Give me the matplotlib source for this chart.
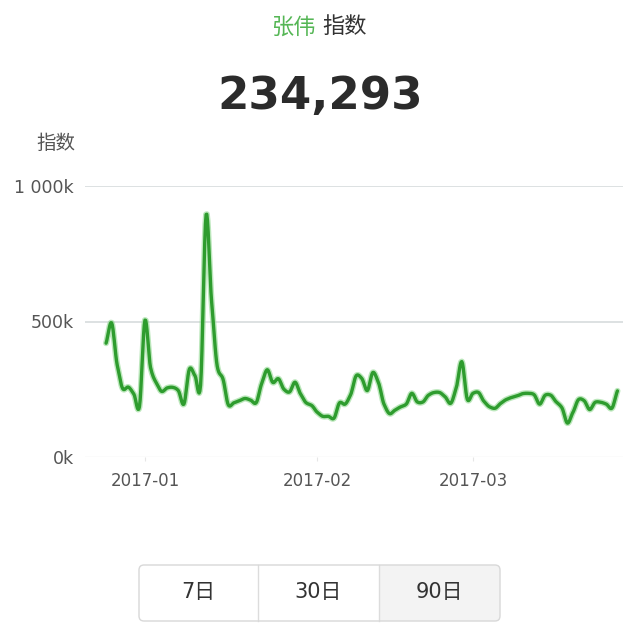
import matplotlib
matplotlib.use('Agg')
import matplotlib.pyplot as plt
import matplotlib.dates as mdates
from matplotlib.patches import FancyBboxPatch, Rectangle
import numpy as np
import pandas as pd

plt.rcParams['font.family'] = ['DejaVu Sans', 'Noto Sans CJK SC']

# daily index values (in thousands), 2016-12-25 .. 2017-03-27
start_date = '2016-12-25'
values = [420, 495, 340, 252, 258, 232, 185,
          505, 330, 275, 242, 255, 257, 245, 195, 325, 300, 265,
          895, 570, 335, 290, 192, 200, 208, 216, 210, 200, 271,
          322, 275, 289, 250, 240, 276, 232, 200, 190,
          165, 150, 150, 143, 200, 195, 230, 300, 290, 245, 312,
          275, 195, 160, 173, 185, 195, 235, 203, 203, 228, 238,
          238, 222, 198, 255, 352, 212,
          235, 238, 205, 185, 180, 198, 212, 220, 226, 234, 235,
          230, 195, 228, 228, 203, 182, 125, 165, 212, 208, 175,
          202, 202, 195, 180, 244]
dates = pd.date_range(start_date, periods=len(values), freq='D')

y_ticks = [0, 500, 1000]
y_tick_labels = ['0k', '500k', '1 000k']
x_ticks = ['2017-01-01', '2017-02-01', '2017-03-01']
x_tick_labels = ['2017-01', '2017-02', '2017-03']
buttons = ['7日', '30日', '90日']
title_name = '张伟'
title_rest = '指数'
big_number = '234,293'


def smooth_path(x, y, steps=8, tension=0.8):
    # cardinal spline through the data points, only for drawing the curve
    x = np.asarray(x, float)
    y = np.asarray(y, float)
    n = len(x)
    my = np.zeros(n)
    my[1:-1] = (y[2:] - y[:-2]) / 2 * tension
    my[0] = (y[1] - y[0]) * tension
    my[-1] = (y[-1] - y[-2]) * tension
    xs, ys = [], []
    t = np.linspace(0, 1, steps, endpoint=False)
    h00 = 2 * t**3 - 3 * t**2 + 1
    h10 = t**3 - 2 * t**2 + t
    h01 = -2 * t**3 + 3 * t**2
    h11 = t**3 - t**2
    for i in range(n - 1):
        xs.append(x[i] + (x[i + 1] - x[i]) * t)
        ys.append(h00 * y[i] + h10 * my[i] + h01 * y[i + 1] + h11 * my[i + 1])
    xs.append([x[-1]])
    ys.append([y[-1]])
    return np.concatenate(xs), np.concatenate(ys)


W, H = 640, 641
fig = plt.figure(figsize=(W / 100, H / 100), dpi=100)
fig.patch.set_facecolor('white')

# main chart
ax = fig.add_axes([85 / W, 1 - 457 / H, (623 - 85) / W, (457 - 186) / H])
sx, sy = smooth_path(mdates.date2num(dates), values)
ax.plot(sx, sy, color='#8fd88f', lw=4.4, alpha=0.6,
        solid_joinstyle='round', solid_capstyle='round', zorder=3)
ax.plot(sx, sy, color='#2e9c2e', lw=2.4,
        solid_joinstyle='round', solid_capstyle='round', zorder=4)

jan1 = mdates.date2num(pd.Timestamp('2017-01-01'))
ax.set_xlim(jan1 - 10.79, jan1 + 86.0)
ax.set_ylim(0, 1000)

ax.set_yticks(y_ticks)
ax.set_yticklabels(y_tick_labels)
ax.set_xticks([mdates.date2num(pd.Timestamp(d)) for d in x_ticks])
ax.set_xticklabels(x_tick_labels)

for v in y_ticks[1:]:
    ax.axhline(v, color='#d3d8da', lw=1.1, zorder=1)
ax.axhline(0, color='#eeeeee', lw=1.0, zorder=1)

for s in ax.spines.values():
    s.set_visible(False)
ax.tick_params(axis='y', length=0, pad=8, labelsize=12.5, labelcolor='#555555')
ax.tick_params(axis='x', length=3, width=0.8, color='#e6e6e6', pad=8,
               labelsize=12, labelcolor='#555555')

# texts in pixel coordinates
ov = fig.add_axes([0, 0, 1, 1])
ov.set_xlim(0, W)
ov.set_ylim(H, 0)
ov.axis('off')

ov.text(316, 27, title_name, color='#55b655', fontsize=16, ha='right', va='center')
ov.text(322, 27, title_rest, color='#333333', fontsize=16, ha='left', va='center')
ov.text(320, 109, big_number, color='#2b2b2b', fontsize=32.5, fontweight='bold',
        ha='center', va='baseline')
ov.text(56, 143, '指数', color='#555555', fontsize=14, ha='center', va='center')

# button group
bx0, bx1, by0, by1 = 139, 500, 565, 621
outer = FancyBboxPatch((bx0, by0), bx1 - bx0, by1 - by0,
                       boxstyle='round,pad=0,rounding_size=5',
                       facecolor='white', edgecolor='none', zorder=1)
ov.add_patch(outer)
sel = Rectangle((379, by0), bx1 - 379, by1 - by0, facecolor='#f3f3f3',
                edgecolor='none', zorder=2)
ov.add_patch(sel)
sel.set_clip_path(outer)
for xd in [258, 379]:
    ov.plot([xd, xd], [by0, by1], color='#dcdcdc', lw=1.0, zorder=3)
border = FancyBboxPatch((bx0, by0), bx1 - bx0, by1 - by0,
                        boxstyle='round,pad=0,rounding_size=5',
                        facecolor='none', edgecolor='#d8d8d8', lw=1.0, zorder=4)
ov.add_patch(border)
seg_centers = [198.5, 318.5, 439.5]
for cx, lab in zip(seg_centers, buttons):
    ov.text(cx, 592, lab, color='#333333', fontsize=15, ha='center', va='center', zorder=5)

fig.savefig('out.png', dpi=100, facecolor='white')
